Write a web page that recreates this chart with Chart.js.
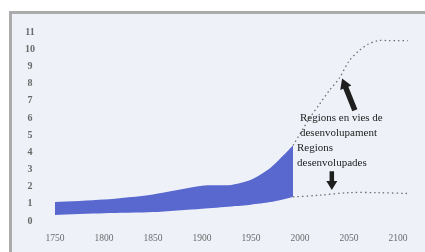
<!DOCTYPE html>
<html>
<head>
<meta charset="utf-8">
<script src="https://cdn.jsdelivr.net/npm/chart.js@4/dist/chart.umd.min.js"></script>
<style>
  body { margin: 0; background: #fff; width: 425px; height: 252px; overflow: hidden; position: relative; }
  #frame { position: absolute; left: 9px; top: 11px; width: 430px; height: 260px;
           border: 3px solid #ababab; background: #eef1f8; }
  #wrap { position: absolute; left: 0; top: 0; width: 425px; height: 252px; }
</style>
</head>
<body>
<div id="frame"></div>
<div id="wrap"><canvas id="popChart" width="425" height="252"></canvas></div>
<script>
// historical band: developed regions (bottom edge) and total (top edge), billions
const histYears     = [1750, 1800, 1850, 1900, 1930, 1950, 1970, 1993];
const histDeveloped = [0.35, 0.45, 0.52, 0.72, 0.85, 0.95, 1.1, 1.4];
const histTotal     = [1.1, 1.25, 1.55, 2.05, 2.1, 2.4, 3.1, 4.4];

// projections (dotted)
const projDevYears  = [1993, 2010, 2020, 2030, 2040, 2050, 2060, 2070, 2080, 2090, 2100, 2110];
const projDeveloping = [4.4, 6.0, 6.8, 7.6, 8.3, 9.3, 9.9, 10.3, 10.5, 10.5, 10.5, 10.5];
const projRichYears = [1993, 2020, 2050, 2080, 2110];
const projDeveloped = [1.4, 1.5, 1.65, 1.65, 1.6];

const xTicks = [1750, 1800, 1850, 1900, 1950, 2000, 2050, 2100];
const yTicks = [0, 1, 2, 3, 4, 5, 6, 7, 8, 9, 10, 11];

const labelDeveloping = ["Regions en vies de", "desenvolupament"];
const labelDeveloped  = ["Regions", "desenvolupades"];

function pts(xs, ys) { return xs.map((x, i) => ({ x: x, y: ys[i] })); }

const annotations = {
  id: "annotations",
  afterDatasetsDraw(chart) {
    const ctx = chart.ctx;
    const xs = chart.scales.x, ys = chart.scales.y;
    const px = v => xs.getPixelForValue(v), py = v => ys.getPixelForValue(v);

    ctx.save();
    ctx.fillStyle = "#222";
    ctx.font = "11px 'Liberation Serif'";
    ctx.textBaseline = "middle";
    labelDeveloping.forEach((t, i) => ctx.fillText(t, px(2000), py(6.0) + i * 15));
    labelDeveloped.forEach((t, i) => ctx.fillText(t, px(1997), py(4.25) + i * 15));

    // thick arrows
    function arrow(x1, y1, x2, y2, shaft, head) {
      const a = Math.atan2(y2 - y1, x2 - x1);
      const len = Math.hypot(x2 - x1, y2 - y1);
      ctx.save();
      ctx.translate(x1, y1);
      ctx.rotate(a);
      ctx.beginPath();
      ctx.moveTo(0, -shaft / 2);
      ctx.lineTo(len - head, -shaft / 2);
      ctx.lineTo(len - head, -head / 2 - 1);
      ctx.lineTo(len, 0);
      ctx.lineTo(len - head, head / 2 + 1);
      ctx.lineTo(len - head, shaft / 2);
      ctx.lineTo(0, shaft / 2);
      ctx.closePath();
      ctx.fillStyle = "#1f1f1f";
      ctx.fill();
      ctx.restore();
    }
    arrow(px(2056), py(6.45), px(2043), py(8.3), 5.5, 10);
    arrow(px(2032.5), py(2.9), px(2032.5), py(1.8), 4.5, 9);
    ctx.restore();
  }
};

new Chart(document.getElementById("popChart"), {
  type: "line",
  data: {
    datasets: [
      { data: pts(histYears, histDeveloped), borderWidth: 0, borderColor: "transparent",
        pointRadius: 0, fill: false, tension: 0.25 },
      { data: pts(histYears, histTotal), borderWidth: 0, borderColor: "transparent",
        backgroundColor: "#5868cf", pointRadius: 0, fill: "-1", tension: 0.25 },
      { data: pts(projDevYears, projDeveloping), borderColor: "#707070", borderWidth: 1.3,
        borderDash: [1.5, 3], pointRadius: 0, fill: false, tension: 0.3 },
      { data: pts(projRichYears, projDeveloped), borderColor: "#707070", borderWidth: 1.3,
        borderDash: [1.5, 3], pointRadius: 0, fill: false, tension: 0.3 }
    ]
  },
  options: {
    responsive: false,
    animation: false,
    layout: { padding: { top: 26, right: 5, left: 0, bottom: 0 } },
    plugins: { legend: { display: false }, tooltip: { enabled: false } },
    scales: {
      x: {
        type: "linear", min: 1734.7, max: 2122.5,
        grid: { display: false, drawTicks: false }, border: { display: false },
        afterBuildTicks: s => { s.ticks = xTicks.map(v => ({ value: v })); },
        afterFit: s => { s.height = 26; },
        ticks: { padding: 7, color: "#6a6a6a", font: { family: "'Liberation Serif'", size: 9.5 },
                 maxRotation: 0, autoSkip: false, callback: v => String(v) }
      },
      y: {
        min: -0.29, max: 11.35,
        grid: { display: false, drawTicks: false }, border: { display: false },
        afterBuildTicks: s => { s.ticks = yTicks.map(v => ({ value: v })); },
        afterFit: s => { s.width = 40; },
        ticks: { padding: 5, crossAlign: "center", color: "#6a6a6a",
                 font: { family: "'Liberation Serif'", size: 10, weight: "bold" },
                 autoSkip: false, callback: v => String(v) }
      }
    }
  },
  plugins: [annotations]
});
</script>
</body>
</html>
